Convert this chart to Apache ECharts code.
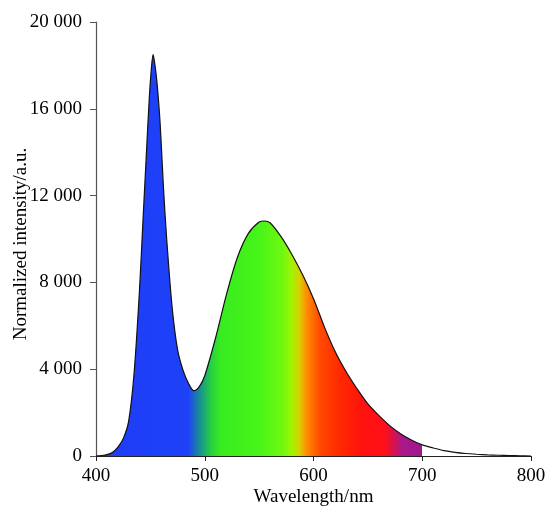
<!DOCTYPE html>
<html>
<head>
<meta charset="utf-8">
<script src="https://cdn.jsdelivr.net/npm/echarts@6/dist/echarts.min.js"></script>
<style>html,body{margin:0;padding:0;background:#fff;}#c{width:548px;height:508px;}</style>
</head>
<body>
<div id="c"></div>
<script>
const wavelengths = [400,405,410,415,420,425,430,435,440,443,446,449,451,452.5,454,456,459,462,465,470,475,480,485,490,495,500,510,520,530,540,550,555,560,570,580,590,600,610,620,630,640,650,660,670,680,690,700,710,720,730,740,750,760,770,780,790,800];
const intensity   = [0,20,60,160,400,800,1600,3800,7650,10650,13600,16500,17900,18500,18100,17250,15300,12400,10000,6850,4900,3950,3350,3010,3200,3700,5450,7450,9150,10250,10780,10830,10750,10120,9300,8350,7250,5950,4800,3880,3100,2400,1870,1400,1030,740,510,370,250,170,115,80,55,35,20,10,0];
const yTicks = [0,4000,8000,12000,16000,20000];
const spectrumStops = [
  [400,'#1e3cf8'],[485,'#1e42f8'],[492,'#1a78b0'],[498,'#1aa080'],[506,'#28d040'],[515,'#38ec20'],
  [550,'#48f418'],[572,'#70f810'],[580,'#a0f400'],[587,'#d8d000'],[594,'#ff8a00'],[606,'#ff4a00'],
  [625,'#ff2800'],[645,'#ff1210'],[665,'#ff1018'],[672,'#e01040'],[682,'#a8188c'],[699.9,'#a0188e'],
  [700,'#ffffff'],[800,'#ffffff']
];

const FONT = 'Liberation Serif';
const FS = 19;
const chart = echarts.init(document.getElementById('c'), null, {renderer:'canvas'});
const data = wavelengths.map((w,i)=>[w,intensity[i]]);
function fmt(v){ return String(v).replace(/\B(?=(\d{3})+(?!\d))/g,' '); }

const option = {
  animation:false,
  backgroundColor:'#fff',
  grid:{left:96,right:17,top:22,bottom:52,containLabel:false,outerBoundsMode:'none'},
  xAxis:{
    type:'value',min:400,max:800,interval:100,
    name:'Wavelength/nm',nameLocation:'middle',nameGap:32,nameMoveOverlap:false,
    nameTextStyle:{fontFamily:FONT,fontSize:FS,color:'#000'},
    axisLine:{show:true,lineStyle:{color:'#222',width:1.2}},
    axisTick:{show:true,inside:false,length:5,lineStyle:{color:'#222'}},
    axisLabel:{fontFamily:FONT,fontSize:FS,color:'#000',margin:11,hideOverlap:false},
    splitLine:{show:false}
  },
  yAxis:{
    type:'value',min:0,max:20000,interval:4000,
    name:'Normalized intensity/a.u.',nameLocation:'middle',nameGap:65,nameMoveOverlap:false,
    nameTextStyle:{fontFamily:FONT,fontSize:FS,color:'#000',padding:[0,10,0,0]},
    axisLine:{show:true,lineStyle:{color:'#555',width:1.2}},
    axisTick:{show:true,inside:false,length:6,lineStyle:{color:'#555'}},
    axisLabel:{fontFamily:FONT,fontSize:FS,color:'#000',margin:14,formatter:fmt},
    splitLine:{show:false}
  },
  series:[{
    type:'line',data:data,smooth:0.3,showSymbol:false,
    lineStyle:{color:'#111',width:1.2},
    areaStyle:{color:'#1e3cf8',opacity:1},
    z:2
  }]
};
chart.setOption(option);
const x0 = chart.convertToPixel({xAxisIndex:0},400);
const x1 = chart.convertToPixel({xAxisIndex:0},800);
const grad = new echarts.graphic.LinearGradient(x0,0,x1,0,
  spectrumStops.map(s=>({offset:(s[0]-400)/400,color:s[1]})), true);
chart.setOption({series:[{areaStyle:{color:grad,opacity:1}}]});
</script>
</body>
</html>
